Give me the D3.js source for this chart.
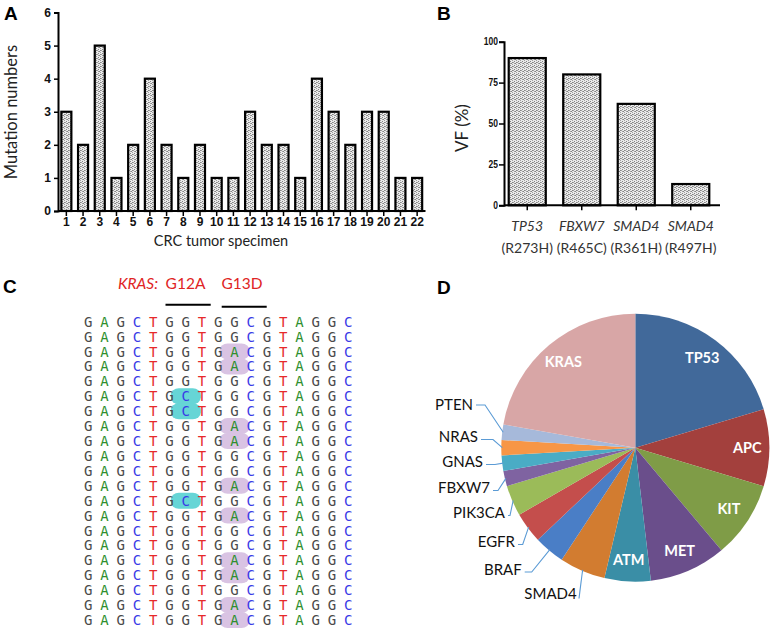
<!DOCTYPE html>
<html><head><meta charset="utf-8">
<script src="https://cdn.jsdelivr.net/npm/d3@7"></script>
<style>body{margin:0;background:#fff}svg{display:block}</style>
</head><body><svg id="c" width="772" height="631"></svg>
<script>
// ---------- DATA ----------
const specimenLabels = ["1","2","3","4","5","6","7","8","9","10","11","12","13","14","15","16","17","18","19","20","21","22"];
const mutationCounts = [3,2,5,1,2,4,2,1,2,1,1,3,2,2,1,4,3,2,3,3,1,1];
const countTicks = [0,1,2,3,4,5,6];

const vfGenes = ["TP53","FBXW7","SMAD4","SMAD4"];
const vfMutations = ["(R273H)","(R465C)","(R361H)","(R497H)"];
const vfValues = [90,80,62,13];
const vfTicks = [0,25,50,75,100];

const refSequence = ["G","A","G","C","T","G","G","T","G","G","C","G","T","A","G","G","C"];
const rowMutations = ["","","G13D","G13D","","G12A","G12A","G13D","G13D","","","G13D","G12A","G13D","","","G13D","G13D","","G13D","G13D"];
const mutationDefs = {G12A:{col:6, base:"C"}, G13D:{col:9, base:"A"}};

const pieGenes = ["TP53","APC","KIT","MET","ATM","SMAD4","BRAF","EGFR","PIK3CA","FBXW7","GNAS","NRAS","PTEN","KRAS"];
const pieCounts = [11,5,5,5,3,3,2,2,2,1,1,1,1,12];
const pieColors = ["#41699a","#a3403d","#7f9c47","#6a4e8b","#3a8ea6","#d27c30","#4a7ec6","#c44e4c","#9bbb59","#7f63a1","#4aacc5","#f79646","#a6b9da","#d8a6a6"];
const pieInside = ["TP53","APC","KIT","MET","ATM","KRAS"];

// ---------- STYLE / LAYOUT ----------
const svg = d3.select("#c");
const sans = "Lato, 'Open Sans', sans-serif";
const arial = "'Liberation Sans', Arial, sans-serif";

const defs = svg.append("defs");
const pat = defs.append("pattern").attr("id","speck").attr("patternUnits","userSpaceOnUse")
  .attr("width",4).attr("height",4);
pat.append("rect").attr("width",4).attr("height",4).attr("fill","#eaeaea");
[[0,0],[2,1],[1,2],[3,3],[2,3],[0,2]].forEach(([x,y],i)=>
  pat.append("rect").attr("x",x).attr("y",y).attr("width",1).attr("height",1).attr("fill", i%2? "#858585":"#a0a0a0"));

function panelLabel(t,x,y){
  svg.append("text").attr("x",x).attr("y",y).text(t)
    .attr("font-family",arial).attr("font-weight","bold").attr("font-size",19).attr("fill","#000");
}
panelLabel("A",4,20); panelLabel("B",437,20); panelLabel("C",3,293); panelLabel("D",437,294);

// ---------- PANEL A ----------
{
  const x = d3.scaleBand().domain(specimenLabels).range([58,425.5]).paddingInner(0.4).paddingOuter(0.2);
  const y = d3.scaleLinear().domain([0,6]).range([211,12.5]);
  const g = svg.append("g");
  g.selectAll("rect.bar").data(mutationCounts).join("rect").attr("class","bar")
    .attr("x",(d,i)=>x(specimenLabels[i])).attr("width",x.bandwidth())
    .attr("y",d=>y(d)).attr("height",d=>y(0)-y(d))
    .attr("fill","url(#speck)").attr("stroke","#000").attr("stroke-width",2.2);
  const ya = g.append("g").attr("transform","translate(58,0)")
    .call(d3.axisLeft(y).tickValues(countTicks).tickSize(4).tickPadding(3).tickFormat(d3.format("d")));
  const xa = g.append("g").attr("transform","translate(0,211)")
    .call(d3.axisBottom(x).tickSize(5).tickPadding(1).tickSizeOuter(0));
  [ya,xa].forEach(a=>{
    a.select(".domain").attr("stroke","#000").attr("stroke-width",2);
    a.selectAll(".tick line").attr("stroke","#000").attr("stroke-width",1.5);
    a.selectAll("text").attr("font-family",arial).attr("font-weight","bold").attr("font-size",12).attr("fill","#111");
  });
  xa.select(".domain").attr("d","M58,0H425.5");
  g.append("text").attr("transform","translate(17,112) rotate(-90)").attr("text-anchor","middle")
    .text("Mutation numbers").attr("font-family",sans).attr("font-size",16.5).attr("fill","#222");
  g.append("text").attr("x",221).attr("y",246).attr("text-anchor","middle")
    .text("CRC tumor specimen").attr("font-family",sans).attr("font-size",14.5).attr("fill","#222");
}

// ---------- PANEL B ----------
{
  const idx = vfValues.map((d,i)=>String(i));
  const x = d3.scaleBand().domain(idx).range([500,718]).paddingInner(0.32).paddingOuter(0.16);
  const y = d3.scaleLinear().domain([0,100]).range([205.3,41.7]);
  const g = svg.append("g");
  g.selectAll("rect.bar").data(vfValues).join("rect").attr("class","bar")
    .attr("x",(d,i)=>x(idx[i])).attr("width",x.bandwidth())
    .attr("y",d=>y(d)).attr("height",d=>y(0)-y(d))
    .attr("fill","url(#speck)").attr("stroke","#000").attr("stroke-width",2.2);
  const ya = g.append("g").attr("transform","translate(504,0)")
    .call(d3.axisLeft(y).tickValues(vfTicks).tickSize(5).tickPadding(1));
  const xa = g.append("g").attr("transform","translate(0,205.3)")
    .call(d3.axisBottom(x).tickSize(5).tickSizeOuter(0).tickFormat(""));
  [ya,xa].forEach(a=>{
    a.select(".domain").attr("stroke","#000").attr("stroke-width",2);
    a.selectAll(".tick line").attr("stroke","#000").attr("stroke-width",1.5);
  });
  xa.select(".domain").attr("d","M504,0H720");
  ya.selectAll("text").attr("font-family","'Liberation Sans Narrow', 'Liberation Sans', sans-serif")
    .attr("font-weight","bold").attr("font-size",10).attr("fill","#111")
    .attr("transform","scale(0.85,1)").attr("x",-6/0.85);
  g.selectAll("text.gene").data(vfGenes).join("text").attr("class","gene")
    .attr("x",(d,i)=>x(idx[i])+x.bandwidth()/2).attr("y",231).attr("text-anchor","middle")
    .text(d=>d).attr("font-family",sans).attr("font-style","italic").attr("font-size",14).attr("fill","#333");
  g.selectAll("text.mut").data(vfMutations).join("text").attr("class","mut")
    .attr("x",(d,i)=>x(idx[i])+x.bandwidth()/2).attr("y",253).attr("text-anchor","middle")
    .text(d=>d).attr("font-family",sans).attr("font-size",14).attr("fill","#333");
  g.append("text").attr("transform","translate(468,128) rotate(-90)").attr("text-anchor","middle")
    .text("VF (%)").attr("font-family",sans).attr("font-size",17).attr("fill","#222");
}

// ---------- PANEL C ----------
{
  const cols = d3.range(refSequence.length);
  const x = d3.scalePoint().domain(cols).range([88.3,348.3]);
  const y = d3.scalePoint().domain(d3.range(rowMutations.length)).range([321.7,620]);
  const baseColor = {G:"#4a4a4a",A:"#2f8f2f",C:"#3a3ae6",T:"#e62a2a"};
  const hiColor = {G12A:"#66d5d6", G13D:"#d9c3e3"};
  const g = svg.append("g");
  rowMutations.forEach((m,r)=>{
    if(!m) return;
    const c = mutationDefs[m].col;
    g.append("rect").attr("x",x(c)-15).attr("y",y(r)-8).attr("width",30).attr("height",16)
      .attr("rx",8).attr("ry",7).attr("fill",hiColor[m]);
  });
  rowMutations.forEach((m,r)=>{
    const seq = refSequence.slice();
    if(m) seq[mutationDefs[m].col] = mutationDefs[m].base;
    g.selectAll(null).data(seq).join("text")
      .attr("x",(d,i)=>x(i)).attr("y",y(r)+5).attr("text-anchor","middle")
      .text(d=>d).attr("fill",d=>baseColor[d])
      .attr("font-family","'DejaVu Sans Mono', monospace").attr("font-size",14);
  });
  g.append("text").attr("x",118).attr("y",289).text("KRAS:").attr("font-family",sans).attr("font-style","italic")
    .attr("font-size",15.5).attr("fill","#e02424");
  g.append("text").attr("x",185.5).attr("y",289).attr("text-anchor","middle").text("G12A").attr("font-family",sans)
    .attr("font-size",15.5).attr("fill","#e02424");
  g.append("text").attr("x",242).attr("y",289).attr("text-anchor","middle").text("G13D").attr("font-family",sans)
    .attr("font-size",15.5).attr("fill","#e02424");
  g.append("line").attr("x1",165.5).attr("x2",210.7).attr("y1",304.7).attr("y2",304.7).attr("stroke","#000").attr("stroke-width",2);
  g.append("line").attr("x1",221.7).attr("x2",266.7).attr("y1",306.7).attr("y2",306.7).attr("stroke","#000").attr("stroke-width",2);
}

// ---------- PANEL D ----------
{
  const cx = 635.3, cy = 447.7, R = 134;
  const g = svg.append("g").attr("transform",`translate(${cx},${cy})`);
  const pie = d3.pie().sort(null).value(d=>d)(pieCounts);
  const arc = d3.arc().innerRadius(0).outerRadius(R);
  g.selectAll("path").data(pie).join("path").attr("d",arc).attr("fill",(d,i)=>pieColors[i]);
  const lab = d3.arc().innerRadius(112).outerRadius(112);
  g.selectAll("text.in").data(pie.filter((d,i)=>pieInside.includes(pieGenes[i]))).join("text").attr("class","in")
    .attr("transform",d=>`translate(${lab.centroid(d)})`).attr("text-anchor","middle").attr("dy","0.35em")
    .text(d=>pieGenes[d.index]).attr("font-family",sans).attr("font-weight","bold").attr("font-size",14.5).attr("fill","#fff");
  // outside labels: [gene, right-end x, center y, elbow x]
  const outside = [["PTEN",473,405,485],["NRAS",478,437,493],["GNAS",483,462,495],["FBXW7",490,488,498],
                   ["PIK3CA",505,513,510],["EGFR",515,542,522.7],["BRAF",521.7,569.5,531.7],["SMAD4",576.7,593.5,579]];
  const edge = d3.arc().innerRadius(R-1).outerRadius(R-1);
  outside.forEach(([name,lx,ly,ex])=>{
    const d = pie[pieGenes.indexOf(name)];
    const [px,py] = edge.centroid(d);
    const yy = name==="SMAD4" ? ly+5 : (name==="PTEN"? ly : ly+2.5);
    const sx = name==="SMAD4" ? ex : lx+3;
    svg.append("path").attr("d",d3.line()([[sx,yy],[ex,yy],[px+cx,py+cy]]))
      .attr("fill","none").attr("stroke","#5b9bd5").attr("stroke-width",1.1);
    svg.append("text").attr("x",lx).attr("y",ly).attr("dy","0.35em").attr("text-anchor","end")
      .text(name).attr("font-family",sans).attr("font-size",15).attr("fill","#111");
  });
}
</script></body></html>
